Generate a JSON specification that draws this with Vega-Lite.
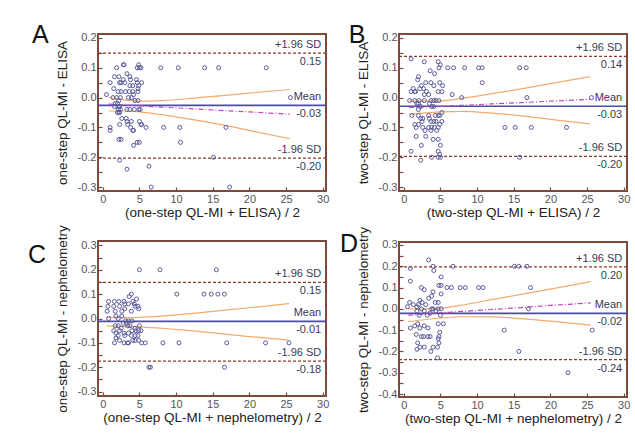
{
  "$schema": "https://vega.github.io/schema/vega-lite/v6.json",
  "background": "white",
  "padding": {"left": 26, "top": 21, "right": 5, "bottom": 5},
  "config": {
    "font": "Liberation Sans",
    "view": {"stroke": "#7d4b3c", "strokeWidth": 2},
    "axis": {"domain": false, "grid": false, "tickColor": "#7d4b3c", "tickSize": -4, "tickWidth": 1.2, "labelPadding": 6, "labelColor": "#555555", "labelFont": "Liberation Sans", "labelFontSize": 11, "titleFont": "Liberation Sans", "titleFontSize": 13.5, "titleFontWeight": "normal", "titleColor": "#222222"},
    "axisY": {"titlePadding": 8},
    "axisX": {"titlePadding": 1},
    "text": {"font": "Liberation Sans"}
  },
  "datasets": {
    "lim": [
      {"p": "A", "k": "up", "v": 0.149, "t": "+1.96 SD", "n": "0.15"},
      {"p": "A", "k": "mean", "v": -0.026, "t": "Mean", "n": "-0.03"},
      {"p": "A", "k": "lo", "v": -0.203, "t": "-1.96 SD", "n": "-0.20"},
      {"p": "B", "k": "up", "v": 0.138, "t": "+1.96 SD", "n": "0.14"},
      {"p": "B", "k": "mean", "v": -0.029, "t": "Mean", "n": "-0.03"},
      {"p": "B", "k": "lo", "v": -0.197, "t": "-1.96 SD", "n": "-0.20"},
      {"p": "C", "k": "up", "v": 0.148, "t": "+1.96 SD", "n": "0.15"},
      {"p": "C", "k": "mean", "v": -0.012, "t": "Mean", "n": "-0.01"},
      {"p": "C", "k": "lo", "v": -0.175, "t": "-1.96 SD", "n": "-0.18"},
      {"p": "D", "k": "up", "v": 0.197, "t": "+1.96 SD", "n": "0.20"},
      {"p": "D", "k": "mean", "v": -0.021, "t": "Mean", "n": "-0.02"},
      {"p": "D", "k": "lo", "v": -0.238, "t": "-1.96 SD", "n": "-0.24"}
    ],
    "ci": [
      {"p": "A", "x": 0.8, "u": 0.001, "l": -0.045, "r": -0.022},
      {"p": "A", "x": 3, "u": -0.008, "l": -0.045, "r": -0.025},
      {"p": "A", "x": 5, "u": -0.012, "l": -0.048, "r": -0.028},
      {"p": "A", "x": 8, "u": -0.010, "l": -0.057, "r": -0.032},
      {"p": "A", "x": 12, "u": -0.003, "l": -0.073, "r": -0.037},
      {"p": "A", "x": 16, "u": 0.006, "l": -0.090, "r": -0.043},
      {"p": "A", "x": 20, "u": 0.015, "l": -0.110, "r": -0.048},
      {"p": "A", "x": 25.5, "u": 0.027, "l": -0.138, "r": -0.056},
      {"p": "B", "x": 0.73, "u": -0.011, "l": -0.056, "r": -0.033},
      {"p": "B", "x": 3, "u": -0.012, "l": -0.051, "r": -0.031},
      {"p": "B", "x": 5, "u": -0.011, "l": -0.048, "r": -0.029},
      {"p": "B", "x": 8, "u": -0.002, "l": -0.046, "r": -0.026},
      {"p": "B", "x": 12, "u": 0.013, "l": -0.052, "r": -0.021},
      {"p": "B", "x": 16, "u": 0.029, "l": -0.061, "r": -0.017},
      {"p": "B", "x": 20, "u": 0.047, "l": -0.073, "r": -0.012},
      {"p": "B", "x": 25.4, "u": 0.070, "l": -0.088, "r": -0.006},
      {"p": "C", "x": 0.55, "u": 0.006, "l": -0.030, "r": -0.012},
      {"p": "C", "x": 3, "u": 0.004, "l": -0.033, "r": -0.012},
      {"p": "C", "x": 5, "u": 0.005, "l": -0.034, "r": -0.012},
      {"p": "C", "x": 8, "u": 0.010, "l": -0.040, "r": -0.013},
      {"p": "C", "x": 12, "u": 0.020, "l": -0.050, "r": -0.013},
      {"p": "C", "x": 16, "u": 0.032, "l": -0.062, "r": -0.014},
      {"p": "C", "x": 20, "u": 0.044, "l": -0.074, "r": -0.014},
      {"p": "C", "x": 25.4, "u": 0.061, "l": -0.089, "r": -0.014},
      {"p": "D", "x": 0.6, "u": 0.000, "l": -0.060, "r": -0.030},
      {"p": "D", "x": 3, "u": 0.000, "l": -0.050, "r": -0.024},
      {"p": "D", "x": 5, "u": 0.003, "l": -0.043, "r": -0.019},
      {"p": "D", "x": 8, "u": 0.018, "l": -0.037, "r": -0.012},
      {"p": "D", "x": 12, "u": 0.043, "l": -0.038, "r": -0.003},
      {"p": "D", "x": 16, "u": 0.068, "l": -0.046, "r": 0.006},
      {"p": "D", "x": 20, "u": 0.093, "l": -0.058, "r": 0.016},
      {"p": "D", "x": 25.5, "u": 0.128, "l": -0.076, "r": 0.028}
    ],
    "pts": [
      {"p":"A","x":1.9,"y":0.10},{"p":"A","x":2.8,"y":0.11},{"p":"A","x":2.9,"y":0.11},{"p":"A","x":4.7,"y":0.10},{"p":"A","x":4.9,"y":0.11},{"p":"A","x":5.0,"y":0.10},{"p":"A","x":5.2,"y":0.10},{"p":"A","x":7.9,"y":0.10},{"p":"A","x":10.3,"y":0.10},{"p":"A","x":13.9,"y":0.10},{"p":"A","x":15.8,"y":0.10},{"p":"A","x":22.3,"y":0.10},
      {"p":"A","x":1.6,"y":0.07},{"p":"A","x":2.2,"y":0.07},{"p":"A","x":3.3,"y":0.08},{"p":"A","x":3.7,"y":0.07},{"p":"A","x":3.8,"y":0.06},{"p":"A","x":2.8,"y":0.06},{"p":"A","x":2.3,"y":0.05},{"p":"A","x":2.5,"y":0.05},{"p":"A","x":3.0,"y":0.05},{"p":"A","x":3.7,"y":0.04},{"p":"A","x":4.1,"y":0.04},{"p":"A","x":4.6,"y":0.06},{"p":"A","x":4.7,"y":0.05},{"p":"A","x":4.9,"y":0.04},{"p":"A","x":5.3,"y":0.05},{"p":"A","x":1.0,"y":0.05},
      {"p":"A","x":1.5,"y":0.03},{"p":"A","x":2.1,"y":0.02},{"p":"A","x":2.5,"y":0.02},{"p":"A","x":3.1,"y":0.02},{"p":"A","x":3.6,"y":0.02},{"p":"A","x":4.1,"y":0.02},{"p":"A","x":4.8,"y":0.03},{"p":"A","x":4.8,"y":0.02},{"p":"A","x":4.2,"y":0.01},{"p":"A","x":0.5,"y":0.01},{"p":"A","x":1.4,"y":0.00},{"p":"A","x":1.9,"y":0.00},{"p":"A","x":2.4,"y":0.00},{"p":"A","x":3.5,"y":0.00},{"p":"A","x":3.9,"y":0.00},{"p":"A","x":4.4,"y":-0.01},{"p":"A","x":4.8,"y":-0.01},{"p":"A","x":2.2,"y":-0.01},
      {"p":"A","x":1.7,"y":-0.02},{"p":"A","x":2.0,"y":-0.02},{"p":"A","x":2.2,"y":-0.03},{"p":"A","x":1.6,"y":-0.03},{"p":"A","x":2.1,"y":-0.04},{"p":"A","x":2.3,"y":-0.03},{"p":"A","x":2.4,"y":-0.04},{"p":"A","x":3.3,"y":-0.04},{"p":"A","x":3.7,"y":-0.04},{"p":"A","x":4.3,"y":-0.04},{"p":"A","x":4.9,"y":-0.04},{"p":"A","x":5.1,"y":-0.04},{"p":"A","x":2.0,"y":-0.05},{"p":"A","x":2.3,"y":-0.05},{"p":"A","x":2.2,"y":-0.05},
      {"p":"A","x":2.6,"y":-0.07},{"p":"A","x":3.2,"y":-0.07},{"p":"A","x":3.3,"y":-0.08},{"p":"A","x":3.9,"y":-0.08},{"p":"A","x":2.3,"y":-0.09},{"p":"A","x":3.4,"y":-0.09},{"p":"A","x":3.8,"y":-0.10},{"p":"A","x":4.1,"y":-0.11},{"p":"A","x":5.0,"y":-0.08},{"p":"A","x":5.2,"y":-0.09},{"p":"A","x":5.3,"y":-0.09},{"p":"A","x":5.9,"y":-0.10},{"p":"A","x":1.0,"y":-0.10},{"p":"A","x":1.0,"y":-0.11},{"p":"A","x":8.3,"y":-0.10},{"p":"A","x":10.5,"y":-0.10},{"p":"A","x":16.8,"y":-0.10},{"p":"A","x":4.2,"y":-0.11},
      {"p":"A","x":2.2,"y":-0.14},{"p":"A","x":2.5,"y":-0.14},{"p":"A","x":4.7,"y":-0.15},{"p":"A","x":5.0,"y":-0.15},{"p":"A","x":10.6,"y":-0.15},{"p":"A","x":4.2,"y":-0.16},
      {"p":"A","x":2.3,"y":-0.21},{"p":"A","x":15.1,"y":-0.20},{"p":"A","x":3.3,"y":-0.24},{"p":"A","x":6.3,"y":-0.23},{"p":"A","x":6.6,"y":-0.30},{"p":"A","x":17.3,"y":-0.30},{"p":"A","x":25.6,"y":0.00},

      {"p":"B","x":1.0,"y":0.13},{"p":"B","x":2.8,"y":0.12},{"p":"B","x":4.7,"y":0.12},{"p":"B","x":5.0,"y":0.11},{"p":"B","x":4.8,"y":0.10},{"p":"B","x":6.0,"y":0.10},{"p":"B","x":6.8,"y":0.10},{"p":"B","x":8.3,"y":0.10},{"p":"B","x":10.2,"y":0.10},{"p":"B","x":10.7,"y":0.10},{"p":"B","x":15.8,"y":0.10},{"p":"B","x":16.7,"y":0.10},
      {"p":"B","x":3.6,"y":0.09},{"p":"B","x":4.2,"y":0.08},{"p":"B","x":2.0,"y":0.07},{"p":"B","x":1.9,"y":0.06},{"p":"B","x":3.0,"y":0.05},{"p":"B","x":3.7,"y":0.05},{"p":"B","x":4.1,"y":0.04},{"p":"B","x":4.9,"y":0.05},{"p":"B","x":5.3,"y":0.04},{"p":"B","x":10.7,"y":0.05},{"p":"B","x":2.4,"y":0.04},
      {"p":"B","x":1.3,"y":0.03},{"p":"B","x":1.0,"y":0.02},{"p":"B","x":1.5,"y":0.02},{"p":"B","x":2.2,"y":0.03},{"p":"B","x":2.7,"y":0.03},{"p":"B","x":3.1,"y":0.02},{"p":"B","x":1.6,"y":0.02},{"p":"B","x":2.8,"y":0.01},{"p":"B","x":3.4,"y":0.01},{"p":"B","x":4.7,"y":0.02},{"p":"B","x":5.2,"y":0.02},{"p":"B","x":6.6,"y":0.01},
      {"p":"B","x":0.8,"y":-0.01},{"p":"B","x":1.5,"y":-0.01},{"p":"B","x":2.1,"y":-0.01},{"p":"B","x":2.8,"y":-0.01},{"p":"B","x":3.7,"y":-0.01},{"p":"B","x":4.1,"y":-0.01},{"p":"B","x":4.4,"y":-0.01},{"p":"B","x":4.8,"y":-0.01},{"p":"B","x":7.9,"y":0.00},{"p":"B","x":16.8,"y":0.00},
      {"p":"B","x":1.8,"y":-0.02},{"p":"B","x":2.0,"y":-0.02},{"p":"B","x":2.3,"y":-0.03},{"p":"B","x":2.0,"y":-0.04},{"p":"B","x":3.5,"y":-0.02},{"p":"B","x":3.8,"y":-0.03},{"p":"B","x":4.1,"y":-0.03},{"p":"B","x":5.2,"y":-0.05},{"p":"B","x":1.1,"y":-0.06},{"p":"B","x":2.0,"y":-0.06},{"p":"B","x":2.3,"y":-0.07},{"p":"B","x":2.6,"y":-0.07},{"p":"B","x":3.4,"y":-0.06},{"p":"B","x":3.5,"y":-0.07},{"p":"B","x":4.3,"y":-0.06},{"p":"B","x":4.7,"y":-0.06},{"p":"B","x":4.9,"y":-0.06},
      {"p":"B","x":2.5,"y":-0.08},{"p":"B","x":3.7,"y":-0.08},{"p":"B","x":4.1,"y":-0.08},{"p":"B","x":4.4,"y":-0.08},{"p":"B","x":5.2,"y":-0.08},{"p":"B","x":1.5,"y":-0.09},{"p":"B","x":2.0,"y":-0.09},{"p":"B","x":2.6,"y":-0.10},{"p":"B","x":3.4,"y":-0.10},{"p":"B","x":3.8,"y":-0.10},{"p":"B","x":4.2,"y":-0.10},{"p":"B","x":4.7,"y":-0.10},{"p":"B","x":4.9,"y":-0.09},{"p":"B","x":1.7,"y":-0.10},{"p":"B","x":2.9,"y":-0.11},{"p":"B","x":3.7,"y":-0.11},{"p":"B","x":4.5,"y":-0.11},
      {"p":"B","x":1.7,"y":-0.13},{"p":"B","x":3.0,"y":-0.13},{"p":"B","x":4.0,"y":-0.14},{"p":"B","x":4.7,"y":-0.14},{"p":"B","x":2.4,"y":-0.16},{"p":"B","x":5.0,"y":-0.16},{"p":"B","x":1.0,"y":-0.18},{"p":"B","x":4.7,"y":-0.18},{"p":"B","x":3.8,"y":-0.20},{"p":"B","x":4.7,"y":-0.20},{"p":"B","x":5.0,"y":-0.20},{"p":"B","x":4.9,"y":-0.19},{"p":"B","x":2.3,"y":-0.21},
      {"p":"B","x":13.8,"y":-0.10},{"p":"B","x":15.2,"y":-0.10},{"p":"B","x":17.4,"y":-0.10},{"p":"B","x":22.2,"y":-0.10},{"p":"B","x":15.8,"y":-0.20},{"p":"B","x":25.6,"y":0.00},

      {"p":"C","x":5.0,"y":0.20},{"p":"C","x":7.8,"y":0.20},{"p":"C","x":15.5,"y":0.20},
      {"p":"C","x":10.1,"y":0.10},{"p":"C","x":13.8,"y":0.10},{"p":"C","x":14.8,"y":0.10},{"p":"C","x":15.7,"y":0.10},{"p":"C","x":16.6,"y":0.10},{"p":"C","x":3.9,"y":0.10},
      {"p":"C","x":0.8,"y":0.07},{"p":"C","x":1.6,"y":0.07},{"p":"C","x":2.2,"y":0.07},{"p":"C","x":2.9,"y":0.07},{"p":"C","x":0.7,"y":0.05},{"p":"C","x":1.5,"y":0.05},{"p":"C","x":2.3,"y":0.05},{"p":"C","x":3.0,"y":0.06},{"p":"C","x":3.5,"y":0.06},{"p":"C","x":4.1,"y":0.07},{"p":"C","x":4.3,"y":0.06},{"p":"C","x":4.6,"y":0.08},{"p":"C","x":3.6,"y":0.09},{"p":"C","x":4.4,"y":0.05},{"p":"C","x":4.8,"y":0.05},
      {"p":"C","x":0.6,"y":0.03},{"p":"C","x":1.7,"y":0.03},{"p":"C","x":2.6,"y":0.03},{"p":"C","x":3.0,"y":0.04},{"p":"C","x":3.9,"y":0.03},{"p":"C","x":4.9,"y":0.04},
      {"p":"C","x":0.8,"y":0.00},{"p":"C","x":1.8,"y":0.01},{"p":"C","x":2.1,"y":0.00},{"p":"C","x":2.6,"y":0.01},{"p":"C","x":3.1,"y":-0.01},{"p":"C","x":3.5,"y":-0.01},{"p":"C","x":4.0,"y":-0.01},{"p":"C","x":3.2,"y":-0.02},{"p":"C","x":2.8,"y":-0.02},
      {"p":"C","x":3.4,"y":-0.03},{"p":"C","x":1.7,"y":-0.03},{"p":"C","x":2.1,"y":-0.03},{"p":"C","x":2.5,"y":-0.04},{"p":"C","x":3.7,"y":-0.03},{"p":"C","x":4.4,"y":-0.04},{"p":"C","x":5.0,"y":-0.03},{"p":"C","x":1.5,"y":-0.05},{"p":"C","x":1.8,"y":-0.06},{"p":"C","x":2.3,"y":-0.05},{"p":"C","x":2.9,"y":-0.06},{"p":"C","x":3.5,"y":-0.06},{"p":"C","x":4.0,"y":-0.05},{"p":"C","x":4.5,"y":-0.05},{"p":"C","x":4.9,"y":-0.05},
      {"p":"C","x":2.1,"y":-0.07},{"p":"C","x":3.0,"y":-0.07},{"p":"C","x":3.9,"y":-0.07},{"p":"C","x":4.4,"y":-0.07},{"p":"C","x":4.8,"y":-0.07},{"p":"C","x":5.2,"y":-0.05},{"p":"C","x":1.8,"y":-0.08},{"p":"C","x":3.4,"y":-0.10},{"p":"C","x":1.6,"y":-0.10},{"p":"C","x":2.3,"y":-0.09},{"p":"C","x":2.9,"y":-0.10},{"p":"C","x":3.5,"y":-0.10},{"p":"C","x":4.1,"y":-0.09},{"p":"C","x":4.4,"y":-0.09},{"p":"C","x":4.9,"y":-0.09},{"p":"C","x":5.3,"y":-0.10},{"p":"C","x":5.8,"y":-0.10},
      {"p":"C","x":8.2,"y":-0.10},{"p":"C","x":10.4,"y":-0.10},{"p":"C","x":16.9,"y":-0.10},{"p":"C","x":22.2,"y":-0.10},{"p":"C","x":25.4,"y":-0.10},
      {"p":"C","x":6.3,"y":-0.20},{"p":"C","x":6.5,"y":-0.20},{"p":"C","x":16.6,"y":-0.20},

      {"p":"D","x":3.4,"y":0.23},{"p":"D","x":0.9,"y":0.19},{"p":"D","x":4.0,"y":0.20},{"p":"D","x":4.1,"y":0.18},{"p":"D","x":6.7,"y":0.20},{"p":"D","x":15.1,"y":0.20},{"p":"D","x":15.7,"y":0.20},{"p":"D","x":16.8,"y":0.20},
      {"p":"D","x":0.9,"y":0.13},{"p":"D","x":2.4,"y":0.10},{"p":"D","x":2.8,"y":0.09},{"p":"D","x":5.1,"y":0.15},{"p":"D","x":4.8,"y":0.11},{"p":"D","x":5.1,"y":0.11},{"p":"D","x":5.9,"y":0.10},{"p":"D","x":6.5,"y":0.10},{"p":"D","x":7.7,"y":0.10},{"p":"D","x":8.4,"y":0.10},{"p":"D","x":10.2,"y":0.10},{"p":"D","x":10.8,"y":0.10},{"p":"D","x":17.3,"y":0.10},
      {"p":"D","x":4.0,"y":0.08},{"p":"D","x":3.8,"y":0.06},{"p":"D","x":5.1,"y":0.07},{"p":"D","x":3.4,"y":0.05},{"p":"D","x":4.3,"y":0.03},{"p":"D","x":4.7,"y":0.03},{"p":"D","x":0.8,"y":0.03},{"p":"D","x":2.2,"y":0.04},{"p":"D","x":2.5,"y":0.03},{"p":"D","x":2.0,"y":0.02},{"p":"D","x":3.0,"y":0.02},{"p":"D","x":1.8,"y":0.01},{"p":"D","x":2.4,"y":0.00},{"p":"D","x":3.8,"y":0.00},{"p":"D","x":4.0,"y":0.00},{"p":"D","x":4.7,"y":0.00},{"p":"D","x":5.1,"y":0.00},{"p":"D","x":0.5,"y":0.01},{"p":"D","x":1.3,"y":0.02},{"p":"D","x":1.8,"y":-0.01},{"p":"D","x":2.8,"y":-0.01},{"p":"D","x":17.0,"y":0.00},
      {"p":"D","x":2.1,"y":-0.03},{"p":"D","x":3.2,"y":-0.03},{"p":"D","x":3.6,"y":-0.02},{"p":"D","x":4.4,"y":-0.01},{"p":"D","x":5.0,"y":-0.03},
      {"p":"D","x":0.9,"y":-0.09},{"p":"D","x":1.5,"y":-0.08},{"p":"D","x":1.9,"y":-0.07},{"p":"D","x":2.2,"y":-0.09},{"p":"D","x":2.8,"y":-0.08},{"p":"D","x":3.3,"y":-0.09},{"p":"D","x":1.7,"y":-0.12},{"p":"D","x":2.4,"y":-0.13},{"p":"D","x":3.3,"y":-0.13},{"p":"D","x":3.6,"y":-0.13},{"p":"D","x":2.7,"y":-0.13},{"p":"D","x":4.7,"y":-0.07},{"p":"D","x":5.4,"y":-0.07},{"p":"D","x":4.9,"y":-0.11},{"p":"D","x":4.8,"y":-0.13},{"p":"D","x":4.7,"y":-0.14},{"p":"D","x":4.8,"y":-0.16},{"p":"D","x":4.6,"y":-0.18},{"p":"D","x":1.9,"y":-0.16},{"p":"D","x":2.2,"y":-0.18},{"p":"D","x":2.8,"y":-0.18},{"p":"D","x":3.7,"y":-0.20},{"p":"D","x":4.0,"y":-0.18},{"p":"D","x":1.8,"y":-0.19},{"p":"D","x":4.6,"y":-0.23},
      {"p":"D","x":13.7,"y":-0.10},{"p":"D","x":15.7,"y":-0.20},{"p":"D","x":22.4,"y":-0.30},{"p":"D","x":25.7,"y":-0.10}
    ]
  },
  "spacing": 8,
  "hconcat": [
    {
      "spacing": 3,
      "vconcat": [
        {
          "width": 228, "height": 157,
          "layer": [
            {"data": {"name": "lim"}, "transform": [{"filter": "datum.p==='A' && datum.k!=='mean'"}],
             "mark": {"type": "rule", "color": "#8b3a2a", "strokeDash": [3, 2], "strokeWidth": 1.3},
             "encoding": {"y": {"field": "v", "type": "quantitative", "scale": {"domain": [-0.313, 0.213], "nice": false, "zero": false},
               "axis": {"title": "one-step QL-MI - ELISA", "tickCount": 40, "labelOverlap": false, "values": [-0.3,-0.25,-0.2,-0.15,-0.1,-0.05,0,0.05,0.1,0.15,0.2], "labelExpr": "abs(round(datum.value*100))%10===0 ? replace(format(datum.value,'.1f'),'−','-') : ''"}}}},
            {"data": {"name": "lim"}, "transform": [{"filter": "datum.p==='A' && datum.k==='mean'"}],
             "mark": {"type": "rule", "color": "#4c4ca6", "strokeWidth": 1.6},
             "encoding": {"y": {"field": "v", "type": "quantitative"}}},
            {"data": {"name": "ci"}, "transform": [{"filter": "datum.p==='A'"}],
             "mark": {"type": "line", "color": "#f2ab6e", "strokeWidth": 1.2, "interpolate": "monotone"},
             "encoding": {"x": {"field": "x", "type": "quantitative", "scale": {"domain": [-0.65, 30.45], "nice": false, "zero": false}, "axis": {"title": "(one-step QL-MI + ELISA) / 2", "tickCount": 40, "values": [0,5,10,15,20,25,30]}},
               "y": {"field": "u", "type": "quantitative"}}},
            {"data": {"name": "ci"}, "transform": [{"filter": "datum.p==='A'"}],
             "mark": {"type": "line", "color": "#f2ab6e", "strokeWidth": 1.2, "interpolate": "monotone"},
             "encoding": {"x": {"field": "x", "type": "quantitative"}, "y": {"field": "l", "type": "quantitative"}}},
            {"data": {"name": "ci"}, "transform": [{"filter": "datum.p==='A'"}],
             "mark": {"type": "line", "color": "#c045c0", "strokeWidth": 1.2, "strokeDash": [5, 2, 1, 2]},
             "encoding": {"x": {"field": "x", "type": "quantitative"}, "y": {"field": "r", "type": "quantitative"}}},
            {"data": {"name": "pts"}, "transform": [{"filter": "datum.p==='A'"}],
             "mark": {"type": "point", "shape": "circle", "filled": false, "size": 16, "stroke": "#5b5b9b", "strokeWidth": 1, "opacity": 1},
             "encoding": {"x": {"field": "x", "type": "quantitative"}, "y": {"field": "y", "type": "quantitative"}}},
            {"data": {"name": "lim"}, "transform": [{"filter": "datum.p==='A'"}],
             "mark": {"type": "text", "align": "right", "baseline": "middle", "dy": -8, "fontSize": 11, "color": "#3a3a50"},
             "encoding": {"x": {"datum": 29.8}, "y": {"field": "v", "type": "quantitative"}, "text": {"field": "t"}}},
            {"data": {"name": "lim"}, "transform": [{"filter": "datum.p==='A'"}],
             "mark": {"type": "text", "align": "right", "baseline": "middle", "dy": 9, "fontSize": 11, "color": "#3a3a50"},
             "encoding": {"x": {"datum": 29.8}, "y": {"field": "v", "type": "quantitative"}, "text": {"field": "n"}}},
            {"data": {"values": [{"t": "A"}]},
             "mark": {"type": "text", "align": "left", "baseline": "alphabetic", "fontSize": 25, "color": "#111111"},
             "encoding": {"x": {"datum": -9.65}, "y": {"datum": 0.183}, "text": {"field": "t"}}}
          ]
        },
        {
          "width": 228, "height": 155,
          "layer": [
            {"data": {"name": "lim"}, "transform": [{"filter": "datum.p==='C' && datum.k!=='mean'"}],
             "mark": {"type": "rule", "color": "#8b3a2a", "strokeDash": [3, 2], "strokeWidth": 1.3},
             "encoding": {"y": {"field": "v", "type": "quantitative", "scale": {"domain": [-0.318, 0.318], "nice": false, "zero": false},
               "axis": {"title": "one-step QL-MI - nephelometry", "tickCount": 40, "labelOverlap": false, "values": [-0.3,-0.25,-0.2,-0.15,-0.1,-0.05,0,0.05,0.1,0.15,0.2,0.25,0.3], "labelExpr": "abs(round(datum.value*100))%10===0 ? replace(format(datum.value,'.1f'),'−','-') : ''"}}}},
            {"data": {"name": "lim"}, "transform": [{"filter": "datum.p==='C' && datum.k==='mean'"}],
             "mark": {"type": "rule", "color": "#4c4ca6", "strokeWidth": 1.6},
             "encoding": {"y": {"field": "v", "type": "quantitative"}}},
            {"data": {"name": "ci"}, "transform": [{"filter": "datum.p==='C'"}],
             "mark": {"type": "line", "color": "#f2ab6e", "strokeWidth": 1.2, "interpolate": "monotone"},
             "encoding": {"x": {"field": "x", "type": "quantitative", "scale": {"domain": [-0.65, 30.45], "nice": false, "zero": false}, "axis": {"title": "(one-step QL-MI + nephelometry) / 2", "tickCount": 40, "values": [0,5,10,15,20,25,30]}},
               "y": {"field": "u", "type": "quantitative"}}},
            {"data": {"name": "ci"}, "transform": [{"filter": "datum.p==='C'"}],
             "mark": {"type": "line", "color": "#f2ab6e", "strokeWidth": 1.2, "interpolate": "monotone"},
             "encoding": {"x": {"field": "x", "type": "quantitative"}, "y": {"field": "l", "type": "quantitative"}}},
            {"data": {"name": "pts"}, "transform": [{"filter": "datum.p==='C'"}],
             "mark": {"type": "point", "shape": "circle", "filled": false, "size": 16, "stroke": "#5b5b9b", "strokeWidth": 1, "opacity": 1},
             "encoding": {"x": {"field": "x", "type": "quantitative"}, "y": {"field": "y", "type": "quantitative"}}},
            {"data": {"name": "lim"}, "transform": [{"filter": "datum.p==='C'"}],
             "mark": {"type": "text", "align": "right", "baseline": "middle", "dy": -8, "fontSize": 11, "color": "#3a3a50"},
             "encoding": {"x": {"datum": 29.8}, "y": {"field": "v", "type": "quantitative"}, "text": {"field": "t"}}},
            {"data": {"name": "lim"}, "transform": [{"filter": "datum.p==='C'"}],
             "mark": {"type": "text", "align": "right", "baseline": "middle", "dy": 9, "fontSize": 11, "color": "#3a3a50"},
             "encoding": {"x": {"datum": 29.8}, "y": {"field": "v", "type": "quantitative"}, "text": {"field": "n"}}},
            {"data": {"values": [{"t": "C"}]},
             "mark": {"type": "text", "align": "left", "baseline": "alphabetic", "fontSize": 25, "color": "#111111"},
             "encoding": {"x": {"datum": -10.2}, "y": {"datum": 0.228}, "text": {"field": "t"}}}
          ]
        }
      ]
    },
    {
      "spacing": 5,
      "vconcat": [
        {
          "width": 228, "height": 157,
          "layer": [
            {"data": {"name": "lim"}, "transform": [{"filter": "datum.p==='B' && datum.k!=='mean'"}],
             "mark": {"type": "rule", "color": "#8b3a2a", "strokeDash": [3, 2], "strokeWidth": 1.3},
             "encoding": {"y": {"field": "v", "type": "quantitative", "scale": {"domain": [-0.313, 0.213], "nice": false, "zero": false},
               "axis": {"title": "two-step QL-MI - ELISA", "tickCount": 40, "labelOverlap": false, "values": [-0.3,-0.25,-0.2,-0.15,-0.1,-0.05,0,0.05,0.1,0.15,0.2], "labelExpr": "abs(round(datum.value*100))%10===0 ? replace(format(datum.value,'.1f'),'−','-') : ''"}}}},
            {"data": {"name": "lim"}, "transform": [{"filter": "datum.p==='B' && datum.k==='mean'"}],
             "mark": {"type": "rule", "color": "#4c4ca6", "strokeWidth": 1.6},
             "encoding": {"y": {"field": "v", "type": "quantitative"}}},
            {"data": {"name": "ci"}, "transform": [{"filter": "datum.p==='B'"}],
             "mark": {"type": "line", "color": "#f2ab6e", "strokeWidth": 1.2, "interpolate": "monotone"},
             "encoding": {"x": {"field": "x", "type": "quantitative", "scale": {"domain": [-0.65, 30.45], "nice": false, "zero": false}, "axis": {"title": "(two-step QL-MI + ELISA) / 2", "tickCount": 40, "values": [0,5,10,15,20,25,30]}},
               "y": {"field": "u", "type": "quantitative"}}},
            {"data": {"name": "ci"}, "transform": [{"filter": "datum.p==='B'"}],
             "mark": {"type": "line", "color": "#f2ab6e", "strokeWidth": 1.2, "interpolate": "monotone"},
             "encoding": {"x": {"field": "x", "type": "quantitative"}, "y": {"field": "l", "type": "quantitative"}}},
            {"data": {"name": "ci"}, "transform": [{"filter": "datum.p==='B'"}],
             "mark": {"type": "line", "color": "#c045c0", "strokeWidth": 1.2, "strokeDash": [5, 2, 1, 2]},
             "encoding": {"x": {"field": "x", "type": "quantitative"}, "y": {"field": "r", "type": "quantitative"}}},
            {"data": {"name": "pts"}, "transform": [{"filter": "datum.p==='B'"}],
             "mark": {"type": "point", "shape": "circle", "filled": false, "size": 16, "stroke": "#5b5b9b", "strokeWidth": 1, "opacity": 1},
             "encoding": {"x": {"field": "x", "type": "quantitative"}, "y": {"field": "y", "type": "quantitative"}}},
            {"data": {"name": "lim"}, "transform": [{"filter": "datum.p==='B'"}],
             "mark": {"type": "text", "align": "right", "baseline": "middle", "dy": -8, "fontSize": 11, "color": "#3a3a50"},
             "encoding": {"x": {"datum": 29.8}, "y": {"field": "v", "type": "quantitative"}, "text": {"field": "t"}}},
            {"data": {"name": "lim"}, "transform": [{"filter": "datum.p==='B'"}],
             "mark": {"type": "text", "align": "right", "baseline": "middle", "dy": 9, "fontSize": 11, "color": "#3a3a50"},
             "encoding": {"x": {"datum": 29.8}, "y": {"field": "v", "type": "quantitative"}, "text": {"field": "n"}}},
            {"data": {"values": [{"t": "B"}]},
             "mark": {"type": "text", "align": "left", "baseline": "alphabetic", "fontSize": 25, "color": "#111111"},
             "encoding": {"x": {"datum": -7.5}, "y": {"datum": 0.183}, "text": {"field": "t"}}}
          ]
        },
        {
          "width": 228, "height": 155,
          "layer": [
            {"data": {"name": "lim"}, "transform": [{"filter": "datum.p==='D' && datum.k!=='mean'"}],
             "mark": {"type": "rule", "color": "#8b3a2a", "strokeDash": [3, 2], "strokeWidth": 1.3},
             "encoding": {"y": {"field": "v", "type": "quantitative", "scale": {"domain": [-0.414, 0.314], "nice": false, "zero": false},
               "axis": {"title": "two-step QL-MI - nephelometry", "tickCount": 40, "labelOverlap": false, "values": [-0.4,-0.35,-0.3,-0.25,-0.2,-0.15,-0.1,-0.05,0,0.05,0.1,0.15,0.2,0.25,0.3], "labelExpr": "abs(round(datum.value*100))%10===0 ? replace(format(datum.value,'.1f'),'−','-') : ''"}}}},
            {"data": {"name": "lim"}, "transform": [{"filter": "datum.p==='D' && datum.k==='mean'"}],
             "mark": {"type": "rule", "color": "#4c4ca6", "strokeWidth": 1.6},
             "encoding": {"y": {"field": "v", "type": "quantitative"}}},
            {"data": {"name": "ci"}, "transform": [{"filter": "datum.p==='D'"}],
             "mark": {"type": "line", "color": "#f2ab6e", "strokeWidth": 1.2, "interpolate": "monotone"},
             "encoding": {"x": {"field": "x", "type": "quantitative", "scale": {"domain": [-0.65, 30.45], "nice": false, "zero": false}, "axis": {"title": "(two-step QL-MI + nephelometry) / 2", "tickCount": 40, "values": [0,5,10,15,20,25,30]}},
               "y": {"field": "u", "type": "quantitative"}}},
            {"data": {"name": "ci"}, "transform": [{"filter": "datum.p==='D'"}],
             "mark": {"type": "line", "color": "#f2ab6e", "strokeWidth": 1.2, "interpolate": "monotone"},
             "encoding": {"x": {"field": "x", "type": "quantitative"}, "y": {"field": "l", "type": "quantitative"}}},
            {"data": {"name": "ci"}, "transform": [{"filter": "datum.p==='D'"}],
             "mark": {"type": "line", "color": "#c045c0", "strokeWidth": 1.2, "strokeDash": [5, 2, 1, 2]},
             "encoding": {"x": {"field": "x", "type": "quantitative"}, "y": {"field": "r", "type": "quantitative"}}},
            {"data": {"name": "pts"}, "transform": [{"filter": "datum.p==='D'"}],
             "mark": {"type": "point", "shape": "circle", "filled": false, "size": 16, "stroke": "#5b5b9b", "strokeWidth": 1, "opacity": 1},
             "encoding": {"x": {"field": "x", "type": "quantitative"}, "y": {"field": "y", "type": "quantitative"}}},
            {"data": {"name": "lim"}, "transform": [{"filter": "datum.p==='D'"}],
             "mark": {"type": "text", "align": "right", "baseline": "middle", "dy": -8, "fontSize": 11, "color": "#3a3a50"},
             "encoding": {"x": {"datum": 29.8}, "y": {"field": "v", "type": "quantitative"}, "text": {"field": "t"}}},
            {"data": {"name": "lim"}, "transform": [{"filter": "datum.p==='D'"}],
             "mark": {"type": "text", "align": "right", "baseline": "middle", "dy": 9, "fontSize": 11, "color": "#3a3a50"},
             "encoding": {"x": {"datum": 29.8}, "y": {"field": "v", "type": "quantitative"}, "text": {"field": "n"}}},
            {"data": {"values": [{"t": "D"}]},
             "mark": {"type": "text", "align": "left", "baseline": "alphabetic", "fontSize": 25, "color": "#111111"},
             "encoding": {"x": {"datum": -8.7}, "y": {"datum": 0.267}, "text": {"field": "t"}}}
          ]
        }
      ]
    }
  ]
}
